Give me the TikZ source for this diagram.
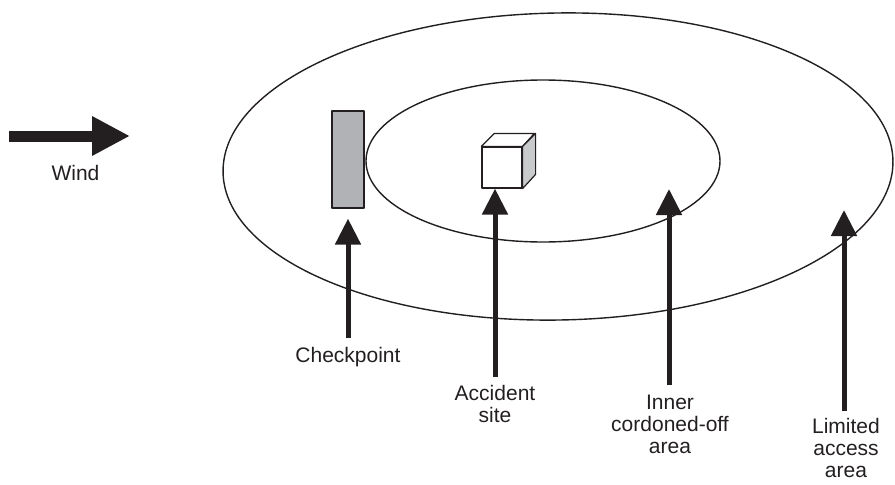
\documentclass[tikz,border=0pt]{standalone}
\usepackage{fontspec}
\setmainfont{Liberation Sans}
\usetikzlibrary{arrows.meta}
\definecolor{ink}{HTML}{231F20}
\definecolor{postgray}{HTML}{B1B2B5}
\definecolor{sidegray}{HTML}{C9CACC}
\tikzset{
  zone/.style={draw=ink, line width=1.4pt},
  lbl/.style={font=\fontsize{21}{22}\selectfont, text=ink, align=center, inner sep=0pt, anchor=north},
  ptr/.style={draw=ink, line width=5pt, -{Triangle[length=26pt,width=25pt]}},
  windptr/.style={draw=ink, line width=11pt, -{Triangle[length=38pt,width=37pt]}},
  face/.style={draw=ink, line width=1.2pt, line join=round}
}
\begin{document}
\begin{tikzpicture}[x=1pt,y=-1pt]
\useasboundingbox (0,0) rectangle (895,485);
% zones
\draw[zone, rotate around={1:(558,166.5)}] (558,166.5) ellipse [x radius=335pt, y radius=153.5pt];
\draw[zone] (543,161) ellipse [x radius=177pt, y radius=81pt];
% checkpoint post
\node[face, fill=postgray, minimum width=32pt, minimum height=97pt, inner sep=0pt] (cp) at (348,159.5) {};
% accident cube
\node[face, fill=white, minimum width=40pt, minimum height=41pt, inner sep=0pt] (acc) at (502,167.5) {};
\draw[face, fill=white] (acc.north west) -- ++(13,-13) -- ++(40,0) -- (acc.north east) -- cycle;
\draw[face, fill=sidegray] (acc.north east) -- ++(13,-13) -- ++(0,41) -- (acc.south east) -- cycle;
% wind
\coordinate (wstart) at (9,136);
\coordinate (wtip) at (130,136);
\draw[windptr] (wstart) -- (wtip);
\node[lbl] (wind) at (75.5,165) {Wind};
% labels
\node[lbl] (cpl) at (348,347) {Checkpoint};
\node[lbl] (accl) at (495,385) {Accident\\site};
\node[lbl] (innl) at (670,395) {Inner\\cordoned-off\\area};
\node[lbl] (liml) at (846,418) {Limited\\access\\area};
% pointers
\coordinate (innTip) at (669,189);
\coordinate (limTip) at (844,210);
\draw[ptr] ([yshift=9pt]cpl.north) -- ([yshift=-10pt]cp.south -| cpl.north);
\draw[ptr] ([yshift=8pt]accl.north) -- (acc.south -| accl.north);
\draw[ptr] ([yshift=10pt]innl.north -| innTip) -- (innTip);
\draw[ptr] ([yshift=7pt]liml.north -| limTip) -- (limTip);
\end{tikzpicture}
\end{document}
